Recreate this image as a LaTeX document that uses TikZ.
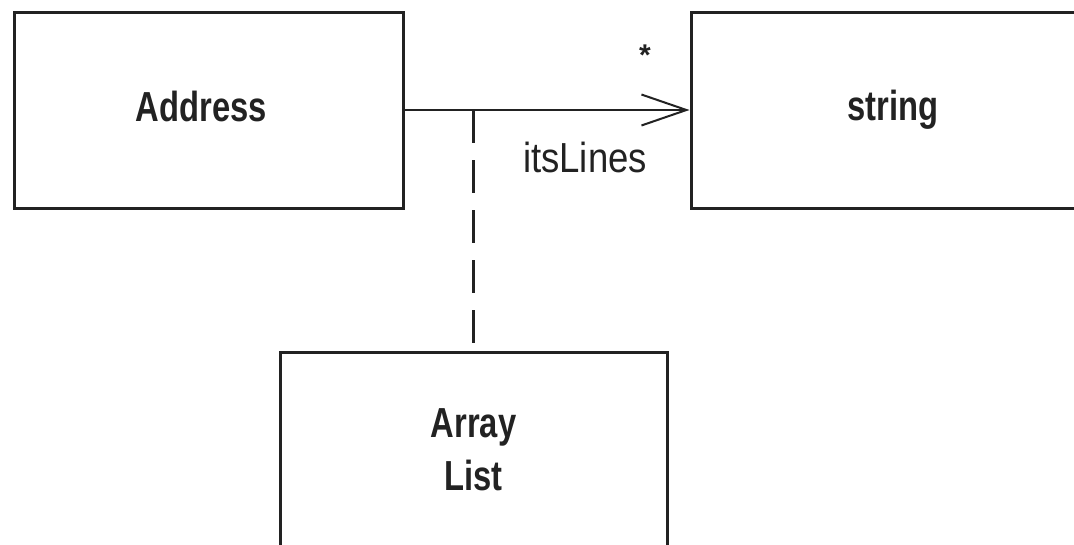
\documentclass[tikz,border=0pt]{standalone}
\usepackage{fontspec}
\setmainfont{Liberation Sans}
\newfontfamily\classfont{Liberation Sans}[FakeStretch=0.78]
\newfontfamily\rolefont{Liberation Sans}[FakeStretch=0.87]
\usetikzlibrary{arrows.meta}
\definecolor{ink}{HTML}{222222}
\begin{document}
\begin{tikzpicture}[x=1pt,y=-1pt,
  classbox/.style={draw=ink, line width=3pt, rectangle, inner sep=0pt,
    font=\classfont\bfseries\fontsize{42}{53}\selectfont, text=ink, align=center},
  classname/.style={font=\classfont\bfseries\fontsize{42}{53}\selectfont, text=ink, inner sep=0pt},
  assoc/.style={draw=ink, line width=2pt, -{Straight Barb[length=45pt,width=31pt,line width=2pt]}},
  link/.style={draw=ink, line width=3pt, dash pattern=on 33pt off 17pt},
  rolelabel/.style={font=\rolefont\fontsize{42}{50}\selectfont, text=ink, inner sep=0pt}
]
\useasboundingbox (0,0) rectangle (1074,544);
\clip (0,0) rectangle (1074,544);

\node[classbox, minimum width=389pt, minimum height=196pt,
      label={[classname, xshift=-7pt, yshift=4pt]center:Address}] (address) at (208.5,110) {};
\node[classbox, minimum width=404pt, minimum height=196pt] (string) at (893,110) {string};
\node[classbox, minimum width=387pt, minimum height=196pt] (list) at (473.5,450) {Array\\List};

\draw[assoc] (address.east) -- (string.west);
\coordinate (junction) at (473.5,110);
\draw[link] (junction) -- (list.north);

\node[rolelabel, anchor=base] (role) at (585,172) {itsLines};
\node[font=\bfseries\fontsize{30}{30}\selectfont, text=ink, inner sep=0pt] (mult) at (645,55) {*};
\end{tikzpicture}
\end{document}
